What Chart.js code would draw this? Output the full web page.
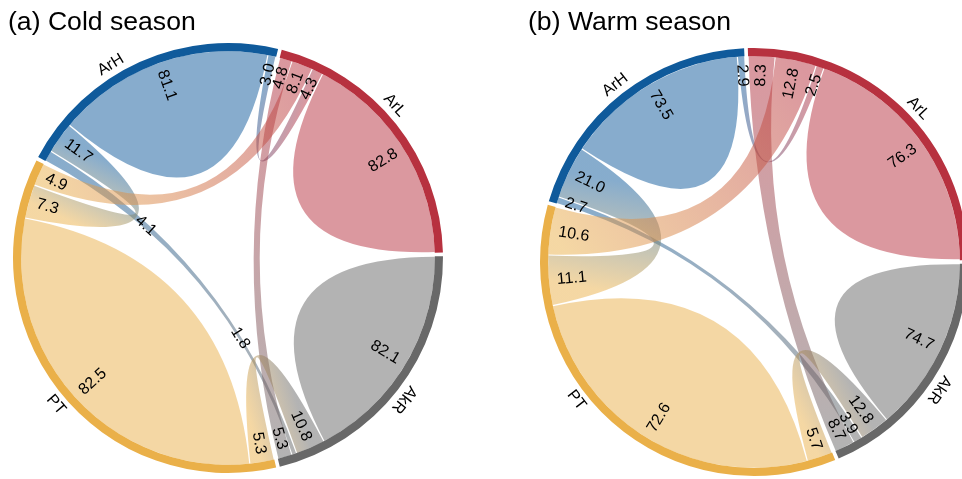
<!DOCTYPE html>
<html>
<head>
<meta charset="utf-8">
<script src="https://cdn.jsdelivr.net/npm/chart.js@4/dist/chart.umd.min.js"></script>
<style>
  html, body { margin: 0; padding: 0; background: #fff; overflow: hidden; width: 962px; height: 479px; }
  canvas { position: absolute; top: 0; }
  #cold { left: 0; }
  #warm { left: 481px; }
</style>
</head>
<body>
<canvas id="cold" width="481" height="479"></canvas>
<canvas id="warm" width="490" height="479"></canvas>
<script>
// ---- data -------------------------------------------------------------
const groups = ['ArH', 'ArL', 'AkR', 'PT'];
const groupColors = ['#0F5A9B', '#B7313F', '#686868', '#EAB049'];
// order in which the partner links sit along every arc, clockwise
const slotOrder = ['AkR', 'PT', 'ArH', 'ArL'];

// share of all cases falling in each group (sets the arc length), %
const coldShare = [21.2, 20.8, 21.5, 36.5];
const warmShare = [19.9, 25.6, 18.6, 35.9];

// how each group's arc splits among partners (ArH, ArL, AkR, PT), %
const coldArH = [81.1, 3.0, 4.1, 11.7];
const coldArL = [4.3, 82.8, 4.8, 8.1];
const coldAkR = [1.8, 5.3, 82.1, 10.8];
const coldPT  = [7.3, 4.9, 5.3, 82.5];

const warmArH = [73.5, 2.9, 2.7, 21.0];
const warmArL = [2.5, 76.3, 8.3, 12.8];
const warmAkR = [3.9, 8.7, 74.7, 12.8];
const warmPT  = [11.1, 10.6, 5.7, 72.6];

// ---- layout -----------------------------------------------------------
const GAP_DEG = 1;
const FONT = '"Liberation Sans", Arial, Helvetica, sans-serif';

const panels = [
  {
    id: 'cold', title: '(a) Cold season', titleX: 8,
    share: coldShare, rows: [coldArH, coldArL, coldAkR, coldPT],
    rotation: 297,
    padding: { left: 13, right: 38, top: 43, bottom: 6 },
    nameNudge: [-7, -4, 1, -2.5],
    // labels of the thin ArH–AkR link sit along the link itself
    // (fraction of the way from the labelled group's own end)
    inline: { '0-2': 0.3, '2-0': 0.32 }
  },
  {
    id: 'warm', title: '(b) Warm season', titleX: 47,
    share: warmShare, rows: [warmArH, warmArL, warmAkR, warmPT],
    rotation: 285.5,
    padding: { left: 59, right: 3, top: 48, bottom: 3 },
    nameNudge: [0, 3, 1, 10.5],
    inline: {}
  }
];
const nameFlip = [false, false, false, true];

function rgba(hex, a) {
  const n = parseInt(hex.slice(1), 16);
  return `rgba(${(n >> 16) & 255},${(n >> 8) & 255},${n & 255},${a})`;
}

// degrees of each ring piece: a gap before every group arc
function ringData(share) {
  const total = share.reduce((s, v) => s + v, 0);
  const avail = 360 - groups.length * GAP_DEG;
  const out = [];
  share.forEach(v => { out.push(GAP_DEG); out.push(v / total * avail); });
  return out;
}

// split every group arc into partner slots, using the drawn arc elements
function layoutSlots(chart, rows) {
  const arcs = chart.getDatasetMeta(0).data;
  const g = arcs[1];
  const geo = { cx: g.x, cy: g.y, rIn: g.innerRadius, rOut: g.outerRadius, groups: [], slots: [] };
  groups.forEach((name, k) => {
    const el = arcs[2 * k + 1];
    const span = el.endAngle - el.startAngle;
    geo.groups.push({ start: el.startAngle, end: el.endAngle });
    let cur = el.startAngle;
    const s = [];
    slotOrder.forEach(p => {
      const j = groups.indexOf(p);
      const w = rows[k][j] / 100 * span;
      s[j] = [cur, cur + w];
      cur += w;
    });
    geo.slots.push(s);
  });
  return geo;
}

const chordPlugin = {
  id: 'chordLinks',
  beforeDatasetsDraw(chart) {
    const cfg = chart.config.options.plugins.chordLinks;
    const geo = layoutSlots(chart, cfg.rows);
    chart.$chordGeo = geo;
    const ctx = chart.ctx;
    const { cx, cy } = geo;
    const r = geo.rIn;
    const pad = 0.0028;
    const pt = a => [cx + r * Math.cos(a), cy + r * Math.sin(a)];

    ctx.save();
    // links of a group with itself
    groups.forEach((name, k) => {
      const [s0, s1] = geo.slots[k][k];
      const a0 = s0 + pad, a1 = s1 - pad;
      ctx.beginPath();
      ctx.arc(cx, cy, r, a0, a1, false);
      const p = pt(a0);
      ctx.quadraticCurveTo(cx, cy, p[0], p[1]);
      ctx.closePath();
      ctx.fillStyle = rgba(groupColors[k], 0.5);
      ctx.fill();
    });
    // links between groups
    for (let i = 0; i < groups.length; i++) {
      for (let j = i + 1; j < groups.length; j++) {
        const [s0, s1] = geo.slots[i][j];
        const [t0, t1] = geo.slots[j][i];
        const a0 = s0 + pad, a1 = s1 - pad, b0 = t0 + pad, b1 = t1 - pad;
        ctx.beginPath();
        ctx.arc(cx, cy, r, a0, a1, false);
        let p = pt(b0);
        ctx.quadraticCurveTo(cx, cy, p[0], p[1]);
        ctx.arc(cx, cy, r, b0, b1, false);
        p = pt(a0);
        ctx.quadraticCurveTo(cx, cy, p[0], p[1]);
        ctx.closePath();
        const pa = pt((s0 + s1) / 2), pb = pt((t0 + t1) / 2);
        const grad = ctx.createLinearGradient(pa[0], pa[1], pb[0], pb[1]);
        grad.addColorStop(0, rgba(groupColors[i], 0.5));
        grad.addColorStop(1, rgba(groupColors[j], 0.5));
        ctx.fillStyle = grad;
        ctx.fill();
      }
    }
    ctx.restore();
  },
  afterDatasetsDraw(chart) {
    const cfg = chart.config.options.plugins.chordLinks;
    const geo = chart.$chordGeo;
    const ctx = chart.ctx;
    const { cx, cy } = geo;
    const r = geo.rIn;
    const rl = r - 8;
    ctx.save();
    ctx.fillStyle = '#000';
    ctx.font = '16px ' + FONT;
    ctx.textBaseline = 'middle';

    // value labels at each link end
    groups.forEach((name, k) => {
      groups.forEach((p, j) => {
        const [s0, s1] = geo.slots[k][j];
        const mid = (s0 + s1) / 2;
        const text = cfg.rows[k][j].toFixed(1);
        const key = k + '-' + j;
        ctx.save();
        if (cfg.inline[key] !== undefined) {
          const t = cfg.inline[key];
          const [u0, u1] = geo.slots[j][k];
          const m2 = (u0 + u1) / 2;
          const P0 = [cx + r * Math.cos(mid), cy + r * Math.sin(mid)];
          const P2 = [cx + r * Math.cos(m2), cy + r * Math.sin(m2)];
          const bx = (1 - t) * (1 - t) * P0[0] + 2 * t * (1 - t) * cx + t * t * P2[0];
          const by = (1 - t) * (1 - t) * P0[1] + 2 * t * (1 - t) * cy + t * t * P2[1];
          const dx = 2 * (1 - t) * (cx - P0[0]) + 2 * t * (P2[0] - cx);
          const dy = 2 * (1 - t) * (cy - P0[1]) + 2 * t * (P2[1] - cy);
          let phi = Math.atan2(dy, dx);
          if (Math.cos(phi) < 0) phi += Math.PI;
          ctx.translate(bx, by);
          ctx.rotate(phi);
          ctx.textAlign = 'center';
        } else {
          ctx.translate(cx + rl * Math.cos(mid), cy + rl * Math.sin(mid));
          let compass = (mid + Math.PI / 2) % (2 * Math.PI);
          if (compass < 0) compass += 2 * Math.PI;
          if (compass < Math.PI) {
            ctx.rotate(mid);
            ctx.textAlign = 'right';
          } else {
            ctx.rotate(mid + Math.PI);
            ctx.textAlign = 'left';
          }
        }
        ctx.fillText(text, 0, 0);
        ctx.restore();
      });
    });

    // group names outside the ring
    const rn = geo.rOut + 11;
    groups.forEach((name, k) => {
      const gA = geo.groups[k];
      const a = (gA.start + gA.end) / 2 + cfg.nameNudge[k] * Math.PI / 180;
      ctx.save();
      ctx.translate(cx + rn * Math.cos(a), cy + rn * Math.sin(a));
      ctx.rotate(nameFlip[k] ? a - Math.PI / 2 : a + Math.PI / 2);
      ctx.textAlign = 'center';
      ctx.fillText(name, 0, 0);
      ctx.restore();
    });

    // panel title
    ctx.font = '26.6px ' + FONT;
    ctx.textAlign = 'left';
    ctx.textBaseline = 'alphabetic';
    ctx.fillText(cfg.title, cfg.titleX, 30);
    ctx.restore();
  }
};

panels.forEach(pn => {
  const colors = [];
  groupColors.forEach(c => { colors.push('rgba(0,0,0,0)'); colors.push(c); });
  const labels = [];
  groups.forEach(g => { labels.push(''); labels.push(g); });
  new Chart(document.getElementById(pn.id), {
    type: 'doughnut',
    data: {
      labels,
      datasets: [{
        data: ringData(pn.share),
        backgroundColor: colors,
        borderWidth: 0,
        hoverOffset: 0,
        spacing: 0
      }]
    },
    options: {
      responsive: false,
      animation: false,
      events: [],
      rotation: pn.rotation,
      circumference: 360,
      cutout: '96.2%',
      layout: { padding: pn.padding },
      plugins: {
        legend: { display: false },
        tooltip: { enabled: false },
        chordLinks: { rows: pn.rows, inline: pn.inline, nameNudge: pn.nameNudge, title: pn.title, titleX: pn.titleX }
      }
    },
    plugins: [chordPlugin]
  });
});
</script>
</body>
</html>
